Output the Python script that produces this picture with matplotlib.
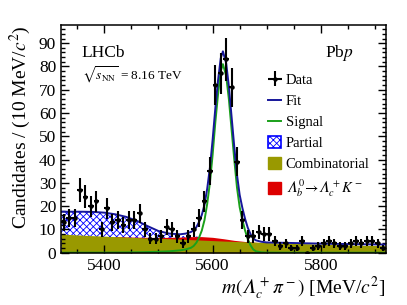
import numpy as np
import matplotlib
matplotlib.use("Agg")
import matplotlib.pyplot as plt
from matplotlib.patches import Patch
from matplotlib.lines import Line2D
from matplotlib.ticker import MultipleLocator

# data: m(Lc pi) bins of 10 MeV
bin_centres = np.arange(5325, 5920, 10)
counts = [13, 15, 15, 27, 24, 20, 22, 10, 19, 13,
          14, 12, 14, 14, 17, 10, 6, 6, 7, 11,
          10, 7, 4, 7, 10, 15, 22, 35, 72, 77,
          83, 71, 39, 14, 7, 7, 9, 8, 8, 5,
          3, 4, 2, 2, 5, 0, 2, 3, 4, 5,
          4, 3, 3, 4, 5, 4, 5, 5, 4, 2]

# fit components (stacked tops)
comb_m = [5320, 5370, 5420, 5470, 5520, 5570, 5620, 5670, 5720, 5770, 5820, 5870, 5920]
comb_top = [8.0, 7.4, 6.9, 6.4, 6.0, 5.5, 5.0, 4.6, 4.2, 3.9, 3.5, 3.2, 3.0]

red_m = [5420, 5450, 5480, 5500, 5520, 5540, 5560, 5580, 5600, 5620, 5640, 5660, 5680, 5700]
red_top = [6.9, 6.7, 6.6, 6.5, 6.6, 6.7, 6.9, 6.9, 6.6, 6.0, 5.3, 4.8, 4.45, 4.2]

part_m = [5320, 5340, 5360, 5380, 5400, 5420, 5440, 5460, 5480, 5500, 5520, 5540, 5560, 5580]
part_top = [17.6, 17.6, 17.6, 17.5, 17.2, 16.5, 15.3, 13.6, 11.2, 9.0, 7.8, 7.2, 6.95, 6.9]

sig_m = [5320, 5400, 5440, 5470, 5500, 5520, 5540, 5550, 5560, 5565, 5570, 5575, 5580, 5585,
         5590, 5595, 5600, 5605, 5610, 5615, 5619, 5625, 5630, 5635, 5640, 5645, 5650, 5655,
         5660, 5665, 5670, 5675, 5680, 5690, 5700, 5750, 5920]
sig_y = [0.0, 0.03, 0.1, 0.2, 0.4, 0.6, 1.0, 1.4, 2.1, 2.9, 4.3, 6.5, 9.5, 14,
         21, 30, 42, 56, 68, 78, 81, 76, 66, 53, 40, 28, 19.5, 14,
         9.5, 5.8, 3.2, 1.4, 0.6, 0.15, 0.05, 0.0, 0.0]

fit_m = [5320, 5340, 5360, 5380, 5400, 5420, 5440, 5460, 5480, 5500, 5520, 5540, 5550, 5560,
         5565, 5570, 5575, 5580, 5585, 5590, 5595, 5600, 5605, 5610, 5615, 5619, 5625, 5630,
         5635, 5640, 5645, 5650, 5655, 5660, 5665, 5670, 5675, 5680, 5690, 5700, 5750, 5800,
         5850, 5920]
fit_y = [17.6, 17.6, 17.6, 17.5, 17.2, 16.5, 15.4, 13.7, 11.4, 9.3, 8.2, 7.9, 8.2, 8.9,
         9.6, 11.0, 13.2, 16.2, 20.6, 27.5, 36.5, 48.5, 62, 74, 83.5, 86.5, 81.5, 71.5,
         58.5, 45.5, 33.5, 24.8, 19.2, 14.5, 10.7, 8.0, 6.1, 5.3, 4.7, 4.4, 4.15, 3.9,
         3.7, 3.5]

navy = "#16169a"
green = "#1aa01a"
olive = "#999900"
red = "#dd0000"

plt.rcParams["font.family"] = ["Liberation Serif", "DejaVu Serif"]
plt.rcParams["mathtext.fontset"] = "stix"
plt.rcParams["hatch.linewidth"] = 0.6

fig = plt.figure(figsize=(4.07, 3.05), dpi=100)
ax = fig.add_axes([0.150, 0.1715, 0.798, 0.7465])

ax.fill_between(part_m, 0, part_top, facecolor="white", edgecolor="blue",
                hatch="xxxxx", linewidth=0)
ax.fill_between(red_m, 0, red_top, color=red, linewidth=0)
ax.fill_between(comb_m, 0, comb_top, color=olive, linewidth=0)
ax.plot(sig_m, sig_y, color=green, lw=1.4)
ax.plot(fit_m, fit_y, color=navy, lw=1.4)

err = np.sqrt(counts)
ax.errorbar(bin_centres, counts, yerr=err, xerr=5, fmt="o", color="black",
            ms=2.2, elinewidth=1.5, capsize=0)

ax.set_xlim(5320, 5920)
ax.set_ylim(0, 97.8)
ax.xaxis.set_major_locator(MultipleLocator(200))
ax.xaxis.set_minor_locator(MultipleLocator(50))
ax.yaxis.set_major_locator(MultipleLocator(10))
ax.yaxis.set_minor_locator(MultipleLocator(2))
ax.tick_params(which="both", direction="in", top=True, right=True, labelsize=12.5, width=1)
ax.tick_params(which="major", length=6)
ax.tick_params(which="minor", length=3)
for s in ax.spines.values():
    s.set_linewidth(1.1)

ax.set_xlabel("$m(𝛬_c^+\\pi^-)$ [MeV/$c^2$]", fontsize=14, loc="right", labelpad=1)
ax.set_ylabel(r"Candidates / (10 MeV/$c^2$)", fontsize=14, loc="top")

ax.text(0.063, 0.875, "LHCb", transform=ax.transAxes, fontsize=12.5, va="center")
ax.text(0.063, 0.78, r"$\sqrt{s_{\rm NN}}$ = 8.16 TeV", transform=ax.transAxes,
        fontsize=9.5, va="center")
ax.text(0.812, 0.875, r"Pb$p$", transform=ax.transAxes, fontsize=12.5, va="center")

data_handle = ax.errorbar([], [], yerr=[], xerr=[], fmt="o", color="black",
                          ms=2.2, elinewidth=1.5, capsize=0)
handles = [
    data_handle,
    Line2D([0], [0], color=navy, lw=1.4),
    Line2D([0], [0], color=green, lw=1.4),
    Patch(facecolor="white", edgecolor="blue", hatch="xxxxx", linewidth=1.2),
    Patch(facecolor=olive, edgecolor=olive),
    Patch(facecolor=red, edgecolor=red),
]
labels = ["Data", "Fit", "Signal", "Partial", "Combinatorial",
          "$𝛬_b^0\\!\\rightarrow\\!𝛬_c^+K^-$"]
ax.legend(handles, labels, loc="upper left", bbox_to_anchor=(0.62, 0.815),
          frameon=False, fontsize=10.5, handlelength=0.9, handleheight=0.9,
          handletextpad=0.3, labelspacing=0.475, borderaxespad=0)

fig.savefig("out.png", dpi=100)
